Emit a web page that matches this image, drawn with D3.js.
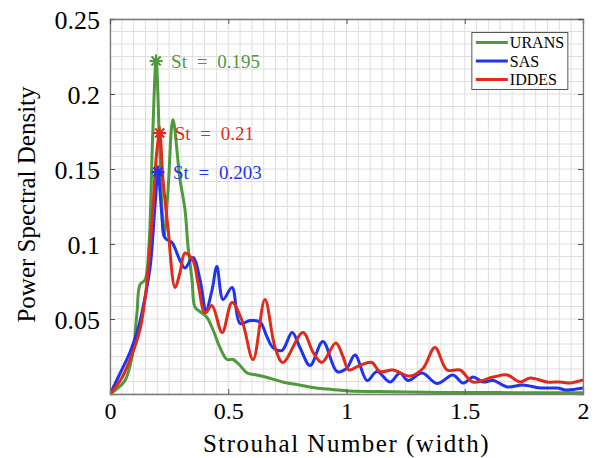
<!DOCTYPE html>
<html>
<head>
<meta charset="utf-8">
<style>
  body { margin: 0; background: #fff; }
  text { font-family: "Liberation Serif", "DejaVu Serif", serif; }
</style>
</head>
<body>
<svg id="chart" width="595" height="458"></svg>
<script src="https://cdn.jsdelivr.net/npm/d3@7"></script>
<script>
// values
const uransSt  = [0, 0.025, 0.064, 0.097, 0.114, 0.127, 0.148, 0.165, 0.18, 0.195, 0.21, 0.228, 0.245, 0.266, 0.296, 0.317, 0.33, 0.347, 0.359, 0.38, 0.41, 0.435, 0.465, 0.495, 0.52, 0.55, 0.58, 0.62, 0.665, 0.73, 0.8, 0.87, 0.94, 1.01, 1.2, 1.4, 1.6, 1.8, 2.0]
const uransPsd = [0, 0.003, 0.009, 0.028, 0.054, 0.073, 0.076, 0.1, 0.17, 0.222, 0.165, 0.105, 0.135, 0.183, 0.143, 0.123, 0.098, 0.076, 0.058, 0.055, 0.051, 0.043, 0.031, 0.023, 0.023, 0.019, 0.014, 0.0127, 0.011, 0.008, 0.006, 0.004, 0.003, 0.002, 0.0015, 0.001, 0.001, 0.0008, 0.0008]

const sasSt  = [0, 0.034, 0.085, 0.118, 0.14, 0.17, 0.19, 0.203, 0.218, 0.233, 0.262, 0.296, 0.317, 0.351, 0.381, 0.406, 0.431, 0.452, 0.478, 0.516, 0.55, 0.592, 0.634, 0.664, 0.689, 0.727, 0.77, 0.803, 0.846, 0.9, 0.96, 1.0, 1.036, 1.087, 1.129, 1.184, 1.226, 1.26, 1.32, 1.383, 1.45, 1.493, 1.535, 1.577, 1.62, 1.68, 1.746, 1.818, 1.89, 1.93, 2.0]
const sasPsd = [0, 0.011, 0.028, 0.043, 0.058, 0.085, 0.125, 0.148, 0.122, 0.104, 0.101, 0.089, 0.084, 0.091, 0.076, 0.056, 0.069, 0.085, 0.063, 0.071, 0.047, 0.049, 0.048, 0.038, 0.031, 0.029, 0.041, 0.031, 0.019, 0.035, 0.015, 0.017, 0.026, 0.009, 0.015, 0.008, 0.014, 0.009, 0.014, 0.007, 0.0127, 0.0073, 0.0113, 0.008, 0.009, 0.0047, 0.006, 0.004, 0.004, 0.0027, 0.004]

const iddesSt  = [0, 0.051, 0.097, 0.127, 0.148, 0.157, 0.18, 0.197, 0.21, 0.224, 0.245, 0.275, 0.296, 0.317, 0.351, 0.372, 0.402, 0.431, 0.474, 0.516, 0.558, 0.605, 0.655, 0.698, 0.731, 0.816, 0.858, 0.896, 0.955, 0.985, 1.01, 1.055, 1.107, 1.141, 1.196, 1.268, 1.323, 1.374, 1.425, 1.48, 1.535, 1.62, 1.68, 1.734, 1.776, 1.848, 1.903, 1.945, 2.0]
const iddesPsd = [0, 0.011, 0.028, 0.043, 0.063, 0.076, 0.12, 0.16, 0.174, 0.143, 0.111, 0.071, 0.081, 0.094, 0.089, 0.074, 0.054, 0.059, 0.041, 0.061, 0.049, 0.023, 0.063, 0.031, 0.021, 0.041, 0.028, 0.021, 0.034, 0.025, 0.016, 0.019, 0.021, 0.015, 0.016, 0.012, 0.017, 0.031, 0.016, 0.016, 0.008, 0.0113, 0.0127, 0.008, 0.0107, 0.008, 0.008, 0.0073, 0.0093]

const seriesNames = ["URANS", "SAS", "IDDES"]
const peakSt  = [0.195, 0.203, 0.21]
const peakPsd = [0.222, 0.148, 0.174]
const peakLabels = ["St = 0.195", "St = 0.203", "St = 0.21"]

const xTicks = [0, 0.5, 1, 1.5, 2]
const yTicks = [0.05, 0.1, 0.15, 0.2, 0.25]

const colors = ["#4e9a3c", "#1f33f2", "#e02a1a"]

const series = [
  { name: seriesNames[0], st: uransSt, psd: uransPsd },
  { name: seriesNames[1], st: sasSt, psd: sasPsd },
  { name: seriesNames[2], st: iddesSt, psd: iddesPsd }
]

const margin = { left: 110, top: 19, right: 12, bottom: 64 }
const width = 595 - margin.left - margin.right
const height = 458 - margin.top - margin.bottom

const svg = d3.select("#chart")
const body = svg.append("g").attr("transform", `translate(${margin.left},${margin.top})`)

const x = d3.scaleLinear().domain([0, 2]).range([0, width])
const y = d3.scaleLinear().domain([0, 0.25]).range([height, 0])

// minor grid
const gx = d3.range(0, 2.0001, 0.05)
const gy = d3.range(0, 0.25001, 0.05 / 6)
body.append("g").selectAll("line").data(gx).enter().append("line")
  .attr("x1", d => x(d)).attr("x2", d => x(d))
  .attr("y1", 0).attr("y2", height)
  .attr("stroke", "#dedede").attr("stroke-width", 1)
body.append("g").selectAll("line").data(gy).enter().append("line")
  .attr("y1", d => y(d)).attr("y2", d => y(d))
  .attr("x1", 0).attr("x2", width)
  .attr("stroke", "#dedede").attr("stroke-width", 1)

// curves
body.append("clipPath").attr("id", "clip")
  .append("rect").attr("width", width).attr("height", height)

const line = d3.line()
  .x(d => x(d[0]))
  .y(d => y(d[1]))
  .curve(d3.curveCatmullRom.alpha(0.5))

body.append("g").attr("clip-path", "url(#clip)")
  .selectAll("path").data(series).enter().append("path")
  .attr("d", s => line(s.st.map((v, i) => [v, s.psd[i]])))
  .attr("fill", "none")
  .attr("stroke", (s, i) => colors[i])
  .attr("stroke-width", 3)
  .attr("stroke-linejoin", "round")

// axes (MATLAB style box with inward ticks)
const xAxis = d3.axisBottom(x).tickValues(xTicks).tickSize(-5).tickPadding(8).tickFormat(d3.format("~g"))
const yAxis = d3.axisLeft(y).tickValues(yTicks).tickSize(-5).tickPadding(10).tickFormat(d3.format("~g"))

const ax = body.append("g").attr("transform", `translate(0,${height})`).call(xAxis)
const ay = body.append("g").call(yAxis)
body.append("g").call(d3.axisTop(x).tickValues(xTicks).tickSize(-5).tickFormat(""))
body.append("g").attr("transform", `translate(${width},0)`)
  .call(d3.axisRight(y).tickValues(yTicks).tickSize(-5).tickFormat(""))

body.selectAll(".domain").attr("stroke", "#7a7a7a").attr("stroke-width", 1.3)
body.selectAll(".tick line").attr("stroke", "#555")
body.selectAll(".tick text")
  .attr("fill", "#000")
  .style("font-family", "'Liberation Serif', serif")
ay.selectAll(".tick text").attr("dy", "0.35em").style("font-size", "26px")
ax.selectAll(".tick text").attr("dy", "0.71em").style("font-size", "24px")

// peak markers
const peaks = [0, 1, 2].map(i => ({ st: peakSt[i], psd: peakPsd[i], label: peakLabels[i] }))
const markerColors = [colors[0], colors[1], colors[2]]
const mk = body.append("g").selectAll("g").data(peaks).enter().append("g")
  .attr("transform", d => `translate(${x(d.st)},${y(d.psd)})`)
mk.each(function (d, i) {
  const g = d3.select(this)
  const r = 6.5
  for (let k = 0; k < 4; k++) {
    const a = k * Math.PI / 4
    g.append("line")
      .attr("x1", -r * Math.cos(a)).attr("y1", -r * Math.sin(a))
      .attr("x2", r * Math.cos(a)).attr("y2", r * Math.sin(a))
      .attr("stroke", markerColors[i]).attr("stroke-width", 2.2)
  }
  g.append("text")
    .attr("x", 15).attr("dy", "0.35em")
    .attr("fill", markerColors[i])
    .style("font-size", "19px")
    .style("word-spacing", "5px")
    .text(d.label)
})

// legend
const lg = body.append("g").attr("transform", `translate(${x(1.53)},${y(0.241)})`)
lg.append("rect").attr("width", 96).attr("height", 57)
  .attr("fill", "#fff").attr("stroke", "#555").attr("stroke-width", 1)
seriesNames.forEach((n, i) => {
  const yy = 10 + i * 18.5
  lg.append("line").attr("x1", 4).attr("x2", 36).attr("y1", yy).attr("y2", yy)
    .attr("stroke", colors[i]).attr("stroke-width", 3)
  lg.append("text").attr("x", 38).attr("y", yy).attr("dy", "0.35em")
    .style("font-size", "16px").text(n)
})

// axis titles
svg.append("text")
  .attr("x", margin.left + width / 2).attr("y", 452)
  .attr("text-anchor", "middle")
  .style("font-size", "25px").style("letter-spacing", "1.5px")
  .text("Strouhal Number (width)")

svg.append("text")
  .attr("transform", `translate(35,${margin.top + height / 2 - 2}) rotate(-90)`)
  .attr("text-anchor", "middle")
  .style("font-size", "25px")
  .text("Power Spectral Density")
</script>
</body>
</html>
